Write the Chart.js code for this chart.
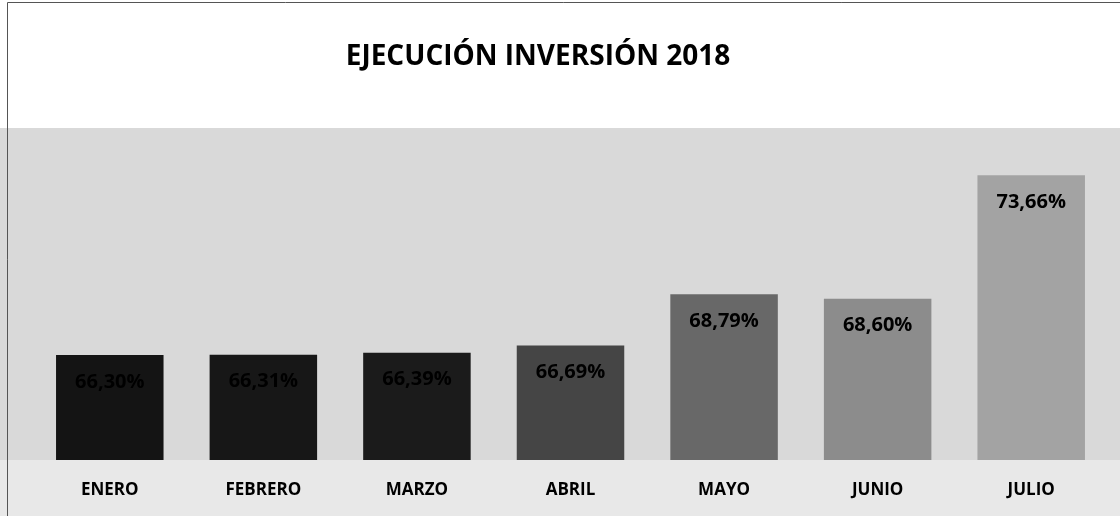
<!DOCTYPE html>
<html>
<head>
<meta charset="utf-8">
<script src="https://cdn.jsdelivr.net/npm/chart.js@4"></script>
<style>
  html, body { margin: 0; padding: 0; background: #fff; }
  #wrap { width: 1120px; height: 516px; position: relative; }
</style>
</head>
<body>
<div id="wrap"><canvas id="chart" width="1120" height="516"></canvas></div>
<script>
const titleText = 'EJECUCIÓN INVERSIÓN 2018';
const months = ['ENERO', 'FEBRERO', 'MARZO', 'ABRIL', 'MAYO', 'JUNIO', 'JULIO'];
const ejecucion = [66.30, 66.31, 66.39, 66.69, 68.79, 68.60, 73.66];
const barColors = ['#141414', '#171717', '#1b1b1b', '#454545', '#686868', '#8c8c8c', '#a3a3a3'];
const yMin = 62;
const yMax = 76;

// scanned-paper look: white top, grey band behind bars, thin frame, title
const backdrop = {
  id: 'backdrop',
  beforeDraw(chart) {
    const { ctx, width, height, chartArea } = chart;
    ctx.save();
    ctx.fillStyle = '#ffffff';
    ctx.fillRect(0, 0, width, height);
    ctx.fillStyle = '#d9d9d9';
    ctx.fillRect(0, chartArea.top + 10, width, chartArea.bottom - chartArea.top - 10);
    ctx.fillStyle = '#e8e8e8';
    ctx.fillRect(0, chartArea.bottom, width, height - chartArea.bottom);
    ctx.strokeStyle = '#555';
    ctx.lineWidth = 1;
    ctx.beginPath();
    ctx.moveTo(7.5, height);
    ctx.lineTo(7.5, 2.5);
    ctx.lineTo(width, 2.5);
    ctx.stroke();

    // title sits a bit left of centre in the original
    ctx.fillStyle = '#000';
    ctx.font = 'bold 28px "Open Sans", sans-serif';
    ctx.textAlign = 'center';
    ctx.textBaseline = 'alphabetic';
    ctx.fillText(titleText, 538, 65);
    ctx.restore();
  }
};

// value labels inside the top of each bar
const valueLabels = {
  id: 'valueLabels',
  afterDatasetsDraw(chart) {
    const { ctx } = chart;
    const meta = chart.getDatasetMeta(0);
    ctx.save();
    ctx.font = 'bold 20px "Open Sans", sans-serif';
    ctx.textAlign = 'center';
    ctx.textBaseline = 'middle';
    ctx.fillStyle = '#000';
    meta.data.forEach((bar, i) => {
      const txt = ejecucion[i].toFixed(2).replace('.', ',') + '%';
      ctx.fillText(txt, bar.x, bar.y + 27);
    });
    ctx.restore();
  }
};

new Chart(document.getElementById('chart'), {
  type: 'bar',
  data: {
    labels: months,
    datasets: [{
      label: 'Ejecución',
      data: ejecucion,
      backgroundColor: barColors,
      borderWidth: 0,
      categoryPercentage: 1,
      barPercentage: 0.7,
    }]
  },
  options: {
    responsive: false,
    animation: false,
    layout: { padding: { top: 118, left: 33, right: 12, bottom: 0 } },
    plugins: {
      legend: { display: false },
      tooltip: { enabled: false },
      title: { display: false },
    },
    scales: {
      x: {
        grid: { display: false, drawTicks: false },
        border: { display: false },
        ticks: {
          color: '#000',
          padding: 20,
          font: { family: 'Open Sans', size: 17, weight: 'bold' },
        },
        afterFit(scale) { scale.height = 56; },
      },
      y: {
        display: false,
        min: yMin,
        max: yMax,
      },
    },
  },
  plugins: [backdrop, valueLabels],
});
</script>
</body>
</html>
